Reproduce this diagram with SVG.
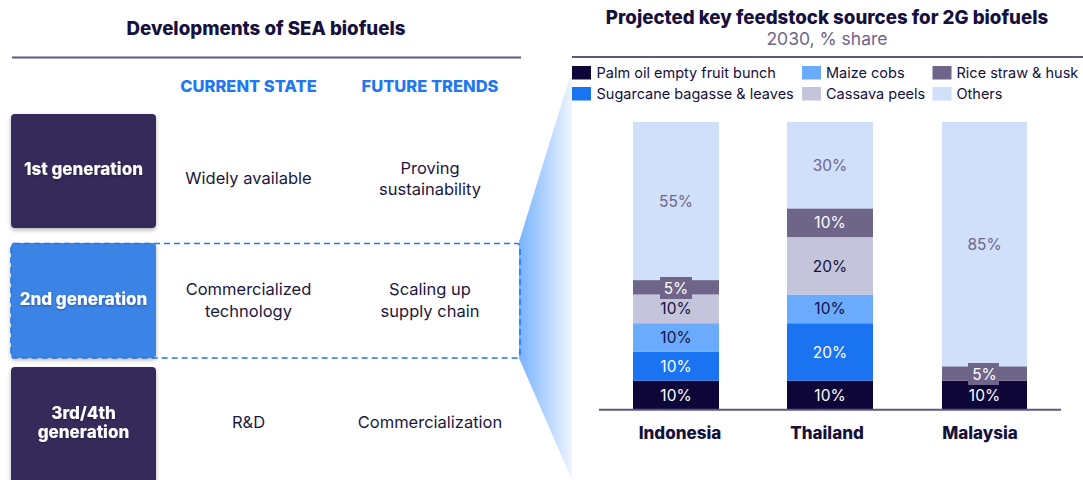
<svg xmlns="http://www.w3.org/2000/svg" width="1083" height="480" viewBox="0 0 1083 480">
<style>
text{font-family:Inter,"Noto Sans","Liberation Sans",sans-serif;dominant-baseline:central}
.title{font-size:18.7px;font-weight:800;fill:#15103d;text-anchor:middle}
.sub{font-size:17.5px;fill:#6e6589;text-anchor:middle}
.hdr{font-size:16.5px;font-weight:800;fill:#1f78f2;text-anchor:middle}
.cell{font-size:16.5px;fill:#1c1740;text-anchor:middle}
.gen{font-size:17px;font-weight:800;fill:#ffffff;text-anchor:middle}
.leg{font-size:14.5px;fill:#15103d}
.pct{font-size:15.5px;text-anchor:middle}
.w{fill:#ffffff}.d{fill:#15103d}.g{fill:#6e6589}
.cty{font-size:17px;font-weight:800;fill:#15103d;text-anchor:middle}
.rule{stroke:#5e5880;stroke-width:2}
.dark{fill:#352b5a}
.c1{fill:#0e0638}.c2{fill:#1a73f0}.c3{fill:#6aabfd}.c4{fill:#c4c4da}.c5{fill:#6e6589}.c6{fill:#d1e0fa}
</style>
<defs>
<filter id="sh" x="-20%" y="-20%" width="140%" height="150%">
<feDropShadow dx="0" dy="2" stdDeviation="2" flood-color="#000" flood-opacity="0.3"/>
</filter>
<filter id="tsh" x="-10%" y="-30%" width="120%" height="160%">
<feDropShadow dx="0" dy="1" stdDeviation="1" flood-color="#000" flood-opacity="0.35"/>
</filter>
<linearGradient id="wedge" x1="0" y1="0" x2="1" y2="0">
<stop offset="0" stop-color="#78b2fc"/>
<stop offset="1" stop-color="#eef5ff"/>
</linearGradient>
</defs>

<!-- wedge -->
<polygon points="519,242 572,70 572,480 519,358" fill="url(#wedge)"/>

<!-- Left panel -->
<text class="title" x="266" y="28">Developments of SEA biofuels</text>
<line class="rule" x1="12" y1="57.5" x2="521" y2="57.5"/>
<text class="hdr" x="248.5" y="86">CURRENT STATE</text>
<text class="hdr" x="430" y="86">FUTURE TRENDS</text>

<g id="gen1">
<rect class="dark" x="11" y="114" width="145" height="114" rx="4" filter="url(#sh)"/>
<text class="gen" x="83.5" y="169" filter="url(#tsh)">1st generation</text>
<text class="cell" x="248.5" y="178">Widely available</text>
<text class="cell" x="430" y="168">Proving</text>
<text class="cell" x="430" y="189">sustainability</text>
</g>

<g id="gen2">
<rect x="11" y="243" width="145" height="115" rx="4" fill="#3b83e5" filter="url(#sh)"/>
<rect x="11" y="243.5" width="509" height="114.5" rx="3" fill="none" stroke="#1f78f2" stroke-width="1.6" stroke-dasharray="6,4"/>
<text class="gen" x="83.5" y="299" filter="url(#tsh)">2nd generation</text>
<text class="cell" x="248.5" y="289">Commercialized</text>
<text class="cell" x="248.5" y="311">technology</text>
<text class="cell" x="430" y="289">Scaling up</text>
<text class="cell" x="430" y="311">supply chain</text>
</g>

<g id="gen3">
<rect class="dark" x="11" y="367" width="145" height="120" rx="4" filter="url(#sh)"/>
<text class="gen" x="83.5" y="413" filter="url(#tsh)">3rd/4th</text>
<text class="gen" x="83.5" y="432" filter="url(#tsh)">generation</text>
<text class="cell" x="248.5" y="422">R&amp;D</text>
<text class="cell" x="430" y="422">Commercialization</text>
</g>

<!-- Right panel -->
<text class="title" x="827" y="17">Projected key feedstock sources for 2G biofuels</text>
<text class="sub" x="827" y="38">2030, % share</text>
<line class="rule" x1="572" y1="57" x2="1083" y2="57"/>

<g id="legend">
<rect class="c1" x="572" y="66" width="19" height="13.5"/>
<text class="leg" x="596.5" y="72.5">Palm oil empty fruit bunch</text>
<rect class="c2" x="572" y="87" width="19" height="13.5"/>
<text class="leg" x="596.5" y="93.5">Sugarcane bagasse &amp; leaves</text>
<rect class="c3" x="802" y="66" width="19" height="13.5"/>
<text class="leg" x="826" y="72.5">Maize cobs</text>
<rect class="c4" x="802" y="87" width="19" height="13.5"/>
<text class="leg" x="826" y="93.5">Cassava peels</text>
<rect class="c5" x="932.5" y="66" width="19" height="13.5"/>
<text class="leg" x="956.5" y="72.5">Rice straw &amp; husk</text>
<rect class="c6" x="932.5" y="87" width="19" height="13.5"/>
<text class="leg" x="956.5" y="93.5">Others</text>
</g>

<g id="indonesia">
<rect class="c1" x="633" y="380.6" width="86" height="28.9"/>
<rect class="c2" x="633" y="351.9" width="86" height="28.7"/>
<rect class="c3" x="633" y="323.2" width="86" height="28.7"/>
<rect class="c4" x="633" y="294.5" width="86" height="28.7"/>
<rect class="c5" x="633" y="280.1" width="86" height="14.4"/>
<rect class="c6" x="633" y="122" width="86" height="158.1"/>
<rect class="c5" x="660" y="277" width="32" height="22"/>
<text class="pct w" x="676" y="395">10%</text>
<text class="pct w" x="676" y="366.3">10%</text>
<text class="pct d" x="676" y="337.6">10%</text>
<text class="pct d" x="676" y="308.9">10%</text>
<text class="pct w" x="676" y="288">5%</text>
<text class="pct g" x="676" y="201">55%</text>
<text class="cty" x="680" y="433">Indonesia</text>
</g>

<g id="thailand">
<rect class="c1" x="787" y="380.6" width="86" height="28.9"/>
<rect class="c2" x="787" y="323.2" width="86" height="57.4"/>
<rect class="c3" x="787" y="294.5" width="86" height="28.7"/>
<rect class="c4" x="787" y="237.1" width="86" height="57.4"/>
<rect class="c5" x="787" y="208.4" width="86" height="28.7"/>
<rect class="c6" x="787" y="122" width="86" height="86.4"/>
<text class="pct w" x="830" y="395">10%</text>
<text class="pct w" x="830" y="352">20%</text>
<text class="pct d" x="830" y="308.9">10%</text>
<text class="pct d" x="830" y="266">20%</text>
<text class="pct w" x="830" y="222.8">10%</text>
<text class="pct g" x="830" y="165">30%</text>
<text class="cty" x="827" y="433">Thailand</text>
</g>

<g id="malaysia">
<rect class="c1" x="942" y="380.6" width="85" height="28.9"/>
<rect class="c5" x="942" y="366.3" width="85" height="14.3"/>
<rect class="c6" x="942" y="122" width="85" height="244.3"/>
<rect class="c5" x="968" y="363" width="31" height="22"/>
<text class="pct w" x="984.5" y="395">10%</text>
<text class="pct w" x="984.5" y="374">5%</text>
<text class="pct g" x="984.5" y="244">85%</text>
<text class="cty" x="980" y="433">Malaysia</text>
</g>

<line class="rule" x1="599" y1="409.7" x2="1061" y2="409.7"/>
</svg>
